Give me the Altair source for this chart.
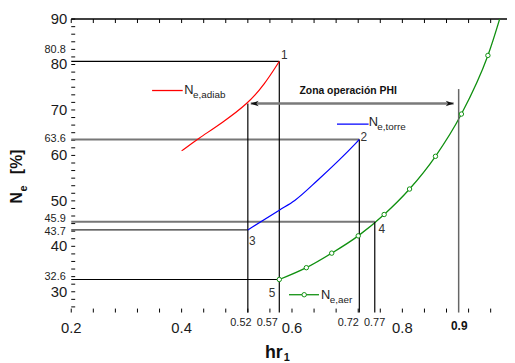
import altair as alt
import pandas as pd

FONT = "Liberation Sans"
W, H = 441, 297
X_DOMAIN = [0.2, 0.9896]
Y_DOMAIN = [25.43, 90]

# ---- curves ----
adiab_x = [0.400, 0.429, 0.475, 0.520, 0.550, 0.577]
adiab_y = [61.0, 63.6, 67.3, 71.4, 75.6, 80.7]
torre_x = [0.520, 0.577, 0.605, 0.647, 0.715, 0.722]
torre_y = [43.6, 47.96, 50.1, 54.6, 62.6, 63.5]
aer_x = [0.577, 0.626, 0.672, 0.720, 0.767, 0.813, 0.860, 0.907, 0.955, 1.002]
aer_y = [32.7, 35.3, 38.5, 42.3, 47.0, 52.6, 59.8, 69.1, 82.0, 100.8]

# ---- operating points 1..5 ----
pt_labels = ["1", "2", "3", "4", "5"]
pt_x = [0.577, 0.722, 0.520, 0.750, 0.577]
pt_y = [80.7, 63.5, 43.6, 45.4, 32.7]
pt_line_color = ["#000000", "#777777", "#333333", "#777777", "#000000"]
pt_line_width = [1.2, 2.0, 1.2, 2.0, 1.2]
pt_label_x = [0.5862, 0.7303, 0.528, 0.7626, 0.5638]
pt_label_y = [82.17, 64.02, 41.09, 43.8, 29.67]

# vertical guide lines
v_x = [0.577, 0.722, 0.750, 0.520, 0.902]
v_top = [80.7, 63.5, 45.4, 71.4, 74.6]
v_color = ["#000000", "#000000", "#000000", "#000000", "#666666"]
v_width = [1.2, 1.2, 1.2, 1.2, 1.5]

# operating zone arrow
arrow_x = [0.5253, 0.8929]
arrow_y = 71.4
zone_text = "Zona operación PHI"
zone_pos = (0.6136, 73.59)

# in-plot legend entries
leg_names = ["e,adiab", "e,torre", "e,aer"]
leg_colors = ["#ff0000", "#0000ff", "#109010"]
leg_x1 = [0.3465, 0.6815, 0.5946]
leg_x2 = [0.4020, 0.7388, 0.6489]
leg_y = [74.28, 66.89, 29.35]
leg_N_x = [0.405, 0.7389, 0.6525]
leg_N_y = [73.41, 66.41, 28.37]
leg_sub_x = [0.4206, 0.7545, 0.6686]
leg_sub_y = [72.65, 65.65, 27.61]
leg_marker_x = 0.6221

# tick labels
x_major = [0.2, 0.4, 0.6, 0.8]
x_major_text = ["0.2", "0.4", "0.6", "0.8"]
y_major = [30, 40, 50, 60, 70, 80, 90]
xlab_text = ["0.52", "0.57", "0.72", "0.77"]
xlab_x = [0.5074, 0.5552, 0.7021, 0.7497]
xlab_y = 23.2
x09_pos = (0.9031, 22.46)
ylab_text = ["80.8", "63.6", "45.9", "43.7", "32.6"]
ylab_y = [83.2, 63.63, 46.09, 43.11, 33.2]
ylab_x = 0.19

# tick positions
x_ticks = [0.2, 0.24, 0.28, 0.32, 0.36, 0.4, 0.44, 0.48, 0.52, 0.56, 0.6, 0.64,
           0.68, 0.72, 0.76, 0.8, 0.84, 0.88, 0.92, 0.96]
y_ticks = [26.67, 28.33, 30, 31.67, 33.33, 35, 36.67, 38.33, 40, 41.67, 43.33, 45,
           46.67, 48.33, 50, 51.67, 53.33, 55, 56.67, 58.33, 60, 61.67, 63.33, 65,
           66.67, 68.33, 70, 71.67, 73.33, 75, 76.67, 78.33, 80, 81.67, 83.33, 85,
           86.67, 88.33, 90]

xs = alt.Scale(domain=X_DOMAIN, nice=False)
ys = alt.Scale(domain=Y_DOMAIN, nice=False)


def X(f, **kw):
    return alt.X(f, scale=xs, axis=None, **kw)


def Y(f, **kw):
    return alt.Y(f, scale=ys, axis=None, **kw)


x_axis = alt.Axis(values=x_major, title=None, ticks=False, labels=False,
                  grid=False, domain=True, domainColor="black", domainWidth=2)
y_axis = alt.Axis(values=y_major, title=None, ticks=False, labels=False,
                  grid=False, domain=True, domainColor="black", domainWidth=2)

# frame and ticks (these layers carry the axis lines)
xt_df = pd.DataFrame({"v": x_ticks})
yt_df = pd.DataFrame({"v": y_ticks})
bt = alt.Chart(xt_df).mark_rule(color="black", strokeWidth=1).encode(
    x=alt.X("v:Q", scale=xs, axis=x_axis), y=alt.value(H), y2=alt.value(H - 4))
lt = alt.Chart(yt_df).mark_rule(color="black", strokeWidth=1).encode(
    y=alt.Y("v:Q", scale=ys, axis=y_axis), x=alt.value(0), x2=alt.value(4))
tt = alt.Chart(xt_df).mark_rule(color="black", strokeWidth=1).encode(
    x=X("v:Q"), y=alt.value(0), y2=alt.value(4))
one = pd.DataFrame({"a": [0]})
top_line = alt.Chart(one).mark_rule(color="black", strokeWidth=1.5).encode(
    x=alt.value(0), x2=alt.value(W + 5), y=alt.value(0))

# major tick labels
xm = alt.Chart(pd.DataFrame({"v": x_major, "t": x_major_text})).mark_text(
    align="center", baseline="middle", font=FONT, fontSize=15, color="#1a1a1a").encode(
    x=X("v:Q"), y=alt.value(H + 16), text="t:N")
ym = alt.Chart(pd.DataFrame({"v": y_major})).mark_text(
    align="right", baseline="middle", font=FONT, fontSize=15, color="#1a1a1a").encode(
    y=Y("v:Q"), x=alt.value(-4), text="v:N")

aer_df = pd.DataFrame({"x": aer_x, "y": aer_y})
aer_line = alt.Chart(aer_df).mark_line(color="#109010", strokeWidth=1.3, clip=True,
                                       interpolate="monotone").encode(
    x=X("x:Q"), y=Y("y:Q"))
aer_pts = alt.Chart(aer_df).mark_point(shape="circle", filled=True, fill="white",
                                       stroke="#109010", strokeWidth=1, size=20,
                                       opacity=1, clip=True).encode(x=X("x:Q"), y=Y("y:Q"))

adiab = alt.Chart(pd.DataFrame({"x": adiab_x, "y": adiab_y})).mark_line(
    color="#ff0000", strokeWidth=1.2, interpolate="basis").encode(x=X("x:Q"), y=Y("y:Q"))
torre = alt.Chart(pd.DataFrame({"x": torre_x, "y": torre_y})).mark_line(
    color="#0000ff", strokeWidth=1.2, interpolate="monotone").encode(x=X("x:Q"), y=Y("y:Q"))

# horizontal guides
h_df = pd.DataFrame({"x0": [X_DOMAIN[0]] * 5, "x1": pt_x, "y": pt_y,
                     "c": pt_line_color, "w": pt_line_width})
h_rules = alt.Chart(h_df).mark_rule().encode(
    x=X("x0:Q"), x2="x1:Q", y=Y("y:Q"),
    color=alt.Color("c:N", scale=None), strokeWidth=alt.StrokeWidth("w:Q", scale=None))

v_df = pd.DataFrame({"x": v_x, "y0": [Y_DOMAIN[0]] * 5, "y1": v_top,
                     "c": v_color, "w": v_width})
v_rules = alt.Chart(v_df).mark_rule().encode(
    x=X("x:Q"), y=Y("y0:Q"), y2="y1:Q",
    color=alt.Color("c:N", scale=None), strokeWidth=alt.StrokeWidth("w:Q", scale=None))

# arrow
arr_df = pd.DataFrame({"x0": [arrow_x[0]], "x1": [arrow_x[1]], "y": [arrow_y]})
arrow_line = alt.Chart(arr_df).mark_rule(color="#7a7a7a", strokeWidth=2.5).encode(
    x=X("x0:Q"), x2="x1:Q", y=Y("y:Q"))
head_r = alt.Chart(pd.DataFrame({"x": [arrow_x[1]], "y": [arrow_y]})).mark_point(
    shape="M0,0 L-2,-0.7 L-1.4,0 L-2,0.7 Z", filled=True, color="#111111", size=64,
    opacity=1).encode(x=X("x:Q"), y=Y("y:Q"))
head_l = alt.Chart(pd.DataFrame({"x": [arrow_x[0]], "y": [arrow_y]})).mark_point(
    shape="M0,0 L2,-0.7 L1.4,0 L2,0.7 Z", filled=True, color="#111111", size=64,
    opacity=1).encode(x=X("x:Q"), y=Y("y:Q"))
zone = alt.Chart(pd.DataFrame({"x": [zone_pos[0]], "y": [zone_pos[1]], "t": [zone_text]})).mark_text(
    align="left", baseline="alphabetic", font=FONT, fontSize=10.5, fontWeight="bold",
    color="#111111").encode(x=X("x:Q"), y=Y("y:Q"), text="t:N")

# point labels
pl = alt.Chart(pd.DataFrame({"x": pt_label_x, "y": pt_label_y, "t": pt_labels})).mark_text(
    align="center", baseline="middle", font=FONT, fontSize=12, color="#333333").encode(
    x=X("x:Q"), y=Y("y:Q"), text="t:N")

# legends
lg_df = pd.DataFrame({"x1": leg_x1, "x2": leg_x2, "y": leg_y, "c": leg_colors,
                      "nx": leg_N_x, "ny": leg_N_y, "sx": leg_sub_x, "sy": leg_sub_y,
                      "s": leg_names, "N": ["N"] * 3})
lg_lines = alt.Chart(lg_df).mark_rule(strokeWidth=1.3).encode(
    x=X("x1:Q"), x2="x2:Q", y=Y("y:Q"), color=alt.Color("c:N", scale=None))
lg_N = alt.Chart(lg_df).mark_text(align="left", baseline="alphabetic", font=FONT,
                                  fontSize=13, color="#222222").encode(
    x=X("nx:Q"), y=Y("ny:Q"), text="N:N")
lg_sub = alt.Chart(lg_df).mark_text(align="left", baseline="alphabetic", font=FONT,
                                    fontSize=10, color="#222222").encode(
    x=X("sx:Q"), y=Y("sy:Q"), text="s:N")
lg_marker = alt.Chart(pd.DataFrame({"x": [leg_marker_x], "y": [leg_y[2]]})).mark_point(
    shape="circle", filled=True, fill="white", stroke="#109010", strokeWidth=1, size=20,
    opacity=1).encode(x=X("x:Q"), y=Y("y:Q"))

# extra tick labels
xl = alt.Chart(pd.DataFrame({"x": xlab_x, "y": [xlab_y] * 4, "t": xlab_text})).mark_text(
    align="center", baseline="middle", font=FONT, fontSize=11, color="#222222").encode(
    x=X("x:Q"), y=Y("y:Q"), text="t:N")
x09 = alt.Chart(pd.DataFrame({"x": [x09_pos[0]], "y": [x09_pos[1]], "t": ["0.9"]})).mark_text(
    align="center", baseline="middle", font=FONT, fontSize=12, fontWeight="bold",
    color="#111111").encode(x=X("x:Q"), y=Y("y:Q"), text="t:N")
yl = alt.Chart(pd.DataFrame({"x": [ylab_x] * 5, "y": ylab_y, "t": ylab_text})).mark_text(
    align="right", baseline="middle", font=FONT, fontSize=11, color="#222222").encode(
    x=X("x:Q"), y=Y("y:Q"), text="t:N")

# axis titles
title_df = pd.DataFrame({"a": [0]})
hr = alt.Chart(title_df).mark_text(align="center", baseline="alphabetic", font=FONT,
                                   fontSize=18, fontWeight="bold", color="#111111").encode(
    x=alt.value(205), y=alt.value(343.5), text=alt.value("hr"))
hr1 = alt.Chart(title_df).mark_text(align="left", baseline="alphabetic", font=FONT,
                                    fontSize=11, fontWeight="bold", color="#111111").encode(
    x=alt.value(215), y=alt.value(346), text=alt.value("1"))
yN = alt.Chart(title_df).mark_text(align="center", baseline="alphabetic", font=FONT,
                                   fontSize=16, fontWeight="bold", angle=270,
                                   color="#111111").encode(
    x=alt.value(-50), y=alt.value(181), text=alt.value("N"))
ye = alt.Chart(title_df).mark_text(align="center", baseline="alphabetic", font=FONT,
                                   fontSize=11, fontWeight="bold", angle=270,
                                   color="#111111").encode(
    x=alt.value(-45), y=alt.value(171.5), text=alt.value("e"))
ypct = alt.Chart(title_df).mark_text(align="center", baseline="alphabetic", font=FONT,
                                     fontSize=16, fontWeight="bold", angle=270,
                                     color="#111111").encode(
    x=alt.value(-50), y=alt.value(144.5), text=alt.value("[%]"))

chart = alt.layer(
    bt, lt, tt, top_line, xm, ym,
    aer_line, h_rules, v_rules, arrow_line, head_l, head_r, adiab, torre, aer_pts,
    zone, pl, lg_lines, lg_marker, lg_N, lg_sub, xl, x09, yl,
    hr, hr1, yN, ye, ypct,
).properties(
    width=W, height=H,
    autosize=alt.AutoSizeParams(type="none"),
    padding={"left": 64, "top": 9, "right": 0, "bottom": 60},
    background="white",
).configure_view(stroke=None)

chart.save("out.html", embed_options={"renderer": "svg", "actions": False})
